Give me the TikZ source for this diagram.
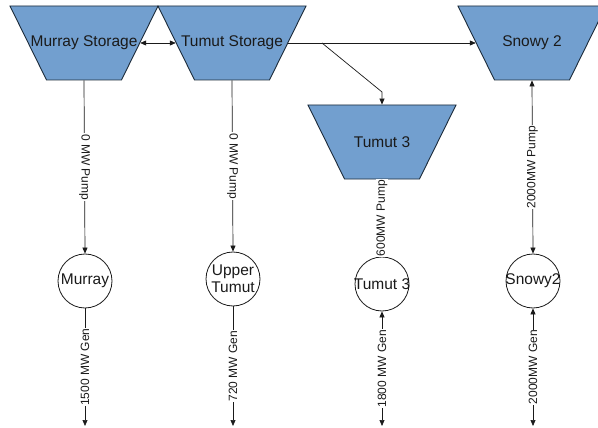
\documentclass[tikz,border=0pt]{standalone}
\usepackage{fontspec}
\setmainfont{Liberation Sans}
\usetikzlibrary{shapes.geometric, arrows.meta, positioning}
\definecolor{resblue}{HTML}{729FCF}
\definecolor{resline}{HTML}{1C2B3A}
\definecolor{ink}{HTML}{1A1A1A}
\tikzset{
  store/.style    = {trapezium, shape border rotate=180, trapezium left angle=64,
                      trapezium right angle=64, trapezium stretches=true,
                      draw=resline, line width=0.9pt, fill=resblue,
                      minimum width=148pt, minimum height=74pt, inner sep=0pt},
  bigtext/.style  = {font=\fontsize{15.5}{17}\selectfont, text=ink, align=center},
  plant/.style    = {circle, draw=ink, line width=0.8pt, fill=white,
                      minimum size=54pt, inner sep=0pt},
  flow/.style     = {-{Triangle[length=6pt,width=5pt]}, line width=0.7pt, draw=ink},
  flowboth/.style = {{Triangle[length=6pt,width=5pt]}-{Triangle[length=6pt,width=5pt]},
                      line width=0.7pt, draw=ink},
  pumplbl/.style  = {midway, rotate=-90, fill=white, inner sep=0.6pt,
                      font=\fontsize{12}{14}\selectfont, text=ink},
  genlbl/.style   = {midway, rotate=90, fill=white, inner sep=0.6pt,
                      font=\fontsize{12}{14}\selectfont, text=ink},
}
\newcommand{\dotbox}{\phantom{\rule{2pt}{2pt}}}

\begin{document}
\begin{tikzpicture}[x=1pt, y=-1pt]
  \clip (0,0) rectangle (598,428);
  \fill[white] (0,0) rectangle (598,428);

  % storages
  \node[store, label={[bigtext]center:Murray Storage}] (ms) at (84,43) {\dotbox};
  \node[store, label={[bigtext]center:Tumut Storage}] (ts) at (232,43) {\dotbox};
  \node[store, label={[bigtext]center:Snowy 2}] (sn) at (532,43) {\dotbox};
  \node[store, label={[bigtext]center:Tumut 3}] (t3) at (382,142) {\dotbox};

  % power stations
  \node[plant, label={[bigtext]center:Murray}] (mu) at (85,281) {};
  \node[plant, label={[bigtext]center:Upper\\Tumut}] (ut) at (233,279) {};
  \node[plant, label={[bigtext]center:Tumut 3}] (t3p) at (382,284) {};
  \node[plant, label={[bigtext]center:Snowy2}] (s2p) at (533,281) {};

  % free ends
  \coordinate (mu-out) at (85,426);
  \coordinate (ut-out) at (233,426);
  \coordinate (t3-out) at (382,426);
  \coordinate (s2-out) at (533,426);
  \coordinate (br) at (322,43);
  \coordinate (bend) at (382,92);

  % water links
  \draw[flowboth] (ms.east) -- (ts.west);
  \draw[flow] (ts.east) -- (sn.west);
  \draw[flow] (br) -- (bend) -- (t3.north);

  % pump and generation
  \draw[flow] (ms.south) -- (mu.north) node[pumplbl] {0 MW Pump};
  \draw[flow] (mu.south) -- (mu-out) node[genlbl] {1500 MW Gen};
  \draw[flow] (ts.south) -- (ut.north) node[pumplbl] {0 MW Pump};
  \draw[flow] (ut.south) -- (ut-out) node[genlbl] {720 MW Gen};
  \draw[flowboth] (t3.south) -- (t3p.north) node[genlbl] {600MW Pump};
  \draw[flowboth] (t3p.south) -- (t3-out) node[genlbl] {1800 MW Gen};
  \draw[flowboth] (sn.south) -- (s2p.north) node[genlbl] {2000MW Pump};
  \draw[flowboth] (s2p.south) -- (s2-out) node[genlbl] {2000MW Gen};
\end{tikzpicture}
\end{document}
